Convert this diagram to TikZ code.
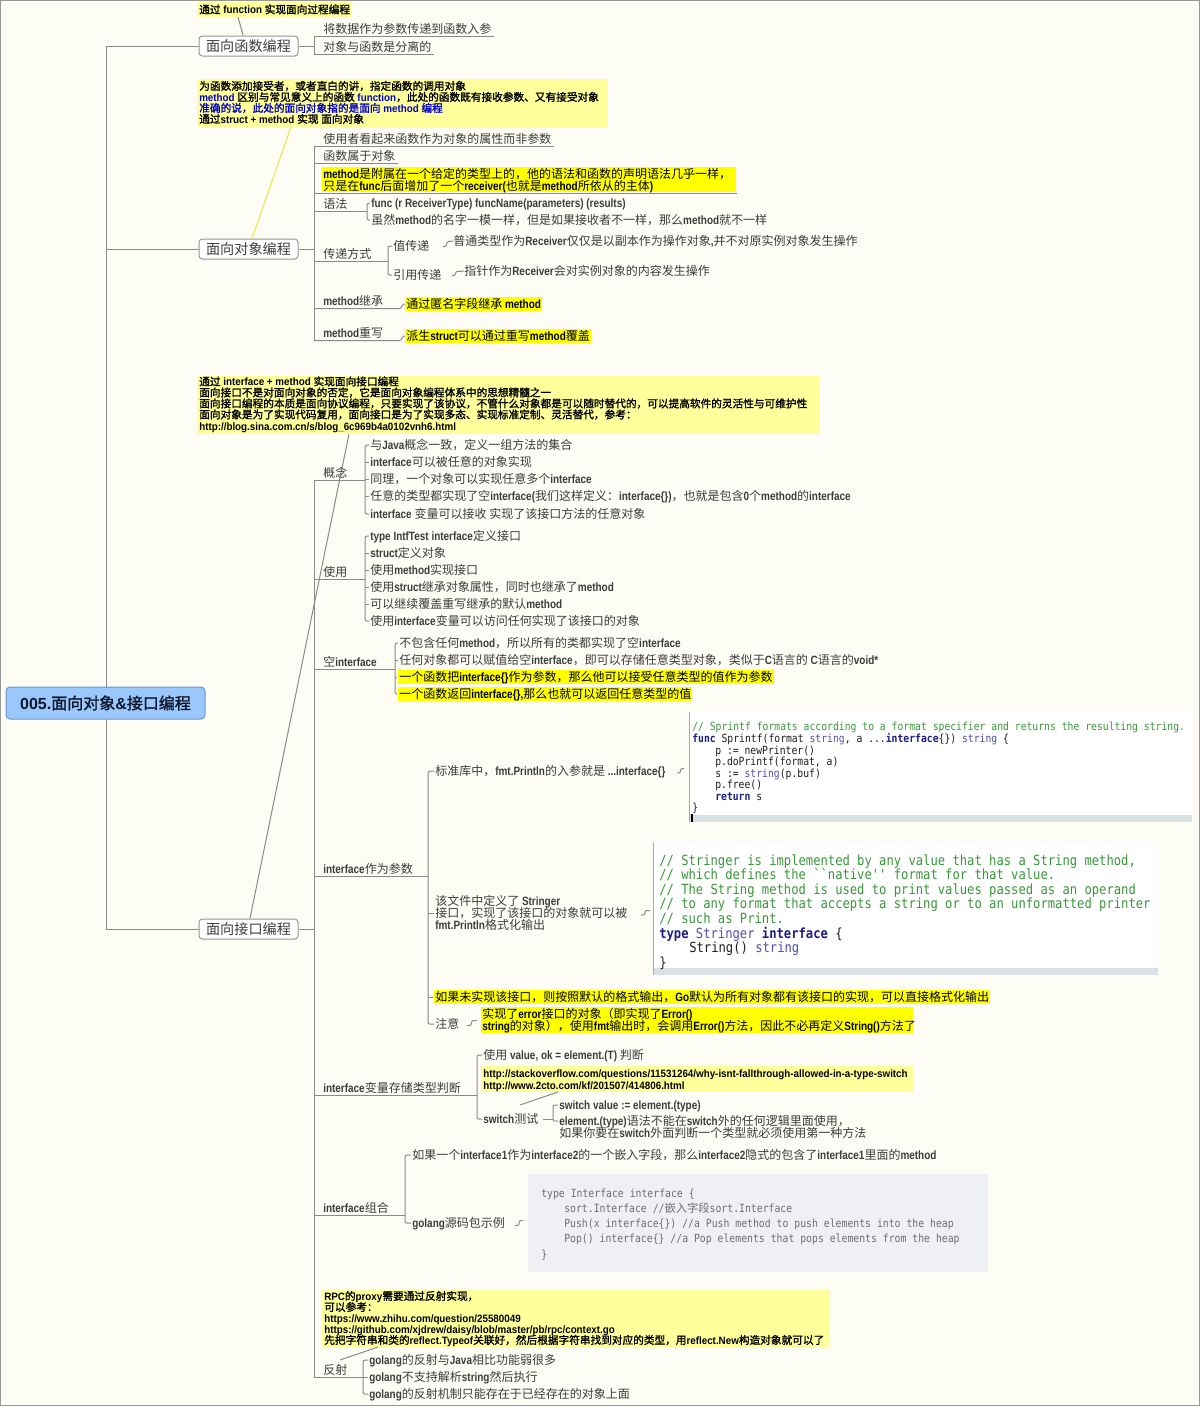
\documentclass[tikz,border=0pt]{standalone}
\usepackage{fontspec}
\setmonofont{DejaVu Sans Mono}[FakeStretch=0.87]
\newfontfamily\latB{Liberation Sans Bold}[FakeStretch=0.83]
\newfontfamily\latC{Liberation Sans Bold}[FakeStretch=0.92]
\newfontfamily\latW{Liberation Sans Bold}
\newfontfamily\cjkR{Noto Sans CJK SC}
\newfontfamily\cjkB{Noto Sans CJK SC}[FakeBold=1.6]
\newcount\cjkcnt
\newcommand\setcjkrange[2]{\cjkcnt=#1\relax
  \loop\XeTeXcharclass\cjkcnt=7\relax
  \ifnum\cjkcnt<#2\relax\advance\cjkcnt by 1\relax\repeat}
\setcjkrange{"3000}{"303F}
\setcjkrange{"4E00}{"9FFF}
\setcjkrange{"FF00}{"FFEF}
\def\cjkswitch{\cjkR}
\def\latswitch{\latB}
\XeTeXinterchartoks 0 7 = {\cjkswitch}
\XeTeXinterchartoks 4095 7 = {\cjkswitch}
\XeTeXinterchartoks 7 0 = {\latswitch}
\XeTeXinterchartoks 7 4095 = {\latswitch}
\XeTeXinterchartokenstate=1
\newcommand\lblfont{\def\latswitch{\latB}\def\cjkswitch{\cjkR}\fontsize{9pt}{11pt}\selectfont\latB}
\newcommand\clfont{\def\latswitch{\latC}\def\cjkswitch{\cjkB}\fontsize{8pt}{10pt}\selectfont\latC}
\newcommand\boxfont{\def\latswitch{\latB}\def\cjkswitch{\cjkR}\fontsize{10.6pt}{12pt}\selectfont\cjkR}
\newcommand\rootfont{\def\latswitch{\latW}\def\cjkswitch{\cjkB}\fontsize{12pt}{14pt}\selectfont\latW}
\newcommand\codeAfont{\def\latswitch{\ttfamily}\def\cjkswitch{\cjkR}\fontsize{8.4pt}{10pt}\selectfont\ttfamily}
\newcommand\codeBfont{\def\latswitch{\ttfamily}\def\cjkswitch{\cjkR}\fontsize{10.5pt}{12pt}\selectfont\ttfamily}
\newcommand\codeCfont{\def\latswitch{\ttfamily}\def\cjkswitch{\cjkR}\fontsize{8.45pt}{10pt}\selectfont\ttfamily}
\definecolor{bgc}{RGB}{253,253,246}
\definecolor{framec}{RGB}{150,150,150}
\definecolor{linec}{RGB}{138,138,138}
\definecolor{boxc}{RGB}{150,150,150}
\definecolor{txtc}{RGB}{60,60,60}
\definecolor{l1c}{RGB}{64,64,64}
\definecolor{hly}{RGB}{255,255,0}
\definecolor{clyc}{RGB}{255,255,155}
\definecolor{ylinec}{RGB}{235,235,90}
\definecolor{blu}{RGB}{0,0,205}
\definecolor{rootf}{RGB}{155,200,250}
\definecolor{rootb}{RGB}{110,150,205}
\definecolor{roott}{RGB}{16,24,48}
\definecolor{codet}{RGB}{30,30,30}
\definecolor{cmc}{RGB}{60,150,60}
\definecolor{kwc}{RGB}{30,30,130}
\definecolor{tyc}{RGB}{80,80,175}
\definecolor{codeband}{RGB}{218,225,229}
\definecolor{codeedge}{RGB}{170,170,170}
\definecolor{codeCbg}{RGB}{239,240,244}
\definecolor{codeCt}{RGB}{110,110,110}
\newcommand\ckw[1]{{\bfseries\color{kwc}#1}}
\newcommand\cty[1]{{\color{tyc}#1}}
\tikzset{
 lnk/.style={draw=linec, line width=0.75pt},
 rcn/.style={rounded corners=1.5pt},
 yln/.style={draw=ylinec, line width=0.9pt},
 lbl/.style={anchor=base west, inner sep=0pt, text height=8.4pt, text depth=2.6pt, font=\lblfont, text=txtc},
 hil/.style={lbl, text=black, fill=hly, text height=8.1pt, text depth=2.2pt, inner xsep=0.75pt},
 hlt/.style={lbl, text=black},
 cal/.style={anchor=base west, inner sep=0pt, font=\clfont, text=black},
 l1box/.style={draw=boxc, fill=white, rounded corners=2.5pt, minimum width=74.25pt, minimum height=15pt, inner sep=0pt, font=\boxfont, text=l1c, line width=0.75pt},
 rootbox/.style={draw=rootb, fill=rootf, rounded corners=3pt, minimum width=149.25pt, minimum height=24pt, inner sep=0pt, font=\rootfont, text=roott, line width=0.75pt},
 codeA/.style={anchor=base west, inner sep=0pt, font=\codeAfont, text=codet},
 codeB/.style={anchor=base west, inner sep=0pt, font=\codeBfont, text=codet},
 codeC/.style={anchor=base west, inner sep=0pt, font=\codeCfont, text=codeCt},
 calbox/.style={fill=clyc},
}
\begin{document}
\begin{tikzpicture}[x=0.75pt,y=-0.75pt]
\useasboundingbox (0,0) rectangle (1200,1406);
\fill[bgc] (0,0) rectangle (1200,1406);
\draw[framec, line width=0.75pt] (0.5,0.5) rectangle (1199.5,1405.5);
\coordinate (T) at (314,0);
\coordinate (M) at (106,0);

% ---------- level 1 boxes and main trunk
\node[l1box] (f1) at (248.5,46) {面向函数编程};
\node[l1box] (o1) at (248.5,249) {面向对象编程};
\node[l1box] (i1) at (248.5,929) {面向接口编程};
\draw[lnk] (f1.west) -- (f1.west -| M) -- (i1.west -| M) -- (i1.west);
\draw[lnk] (o1.west) -- (o1.west -| M);
\node[rootbox] (root) at (105.5,703) {005.面向对象\&接口编程};

% ---------- callout A
\fill[calbox] (197,2) rectangle (352,17);
\node[cal] (ca) at (199,13.5) {通过 function 实现面向过程编程};
\coordinate (caP) at (238,17);
\draw[lnk] (caP) -- ([xshift=-4pt]f1.north);

% ---------- function branch
\node[lbl] (f1a) at (323,33) {将数据作为参数传递到函数入参};
\node[lbl] (f1b) at (323,51) {对象与函数是分离的};
\draw[lnk] (f1.east) -- (f1.east -| T);
\draw[lnk] (f1a.south -| T) -- (f1b.south -| T);
\draw[lnk] (f1a.south -| T) -- ([xshift=2pt]f1a.south east);
\draw[lnk] (f1b.south -| T) -- ([xshift=2pt]f1b.south east);

% ---------- callout B
\fill[calbox] (197,79) rectangle (608,127);
\node[cal] (cb1) at (199,90) {为函数添加接受者，或者直白的讲，指定函数的调用对象};
\node[cal] (cb2) at (199,101) {{\color{blu}method} 区别与常见意义上的函数 {\color{blu}function}，此处的函数既有接收参数、又有接受对象};
\node[cal, text=blu] (cb3) at (199,112) {准确的说，此处的面向对象指的是面向 method 编程};
\node[cal] (cb4) at (199,123) {通过struct + method 实现 面向对象};
\coordinate (cbP) at (291,127);
\draw[yln] (cbP) -- ([xshift=2.6pt]o1.north);

% ---------- object branch
\draw[lnk] (o1.east) -- (o1.east -| T);
\node[lbl] (oa) at (323,143) {使用者看起来函数作为对象的属性而非参数};
\node[lbl] (ob) at (323,160) {函数属于对象};
\fill[hly] (322,167) rectangle (736,192);
\node[hlt] (oc1) at (323,178) {method是附属在一个给定的类型上的，他的语法和函数的声明语法几乎一样，};
\node[hlt] (oc2) at (323,190) {只是在func后面增加了一个receiver(也就是method所依从的主体)};
\node[lbl] (od) at (323,208) {语法};
\node[lbl] (od1) at (371,207) {func (r ReceiverType) funcName(parameters) (results)};
\node[lbl] (od2) at (371,224) {虽然method的名字一模一样，但是如果接收者不一样，那么method就不一样};
\node[lbl] (oe) at (323,258) {传递方式};
\node[lbl] (oe1) at (393,250) {值传递};
\node[lbl] (oe2) at (393,279) {引用传递};
\node[lbl] (oe1a) at (453,245) {普通类型作为Receiver仅仅是以副本作为操作对象,并不对原实例对象发生操作};
\node[lbl] (oe2a) at (464,275) {指针作为Receiver会对实例对象的内容发生操作};
\node[lbl] (of) at (323,305) {method继承};
\node[hil] (ofa) at (405,308) {通过匿名字段继承 method};
\node[lbl] (og) at (323,337) {method重写};
\node[hil] (oga) at (405,340) {派生struct可以通过重写method覆盖};

\draw[lnk] (oa.south -| T) -- (og.south -| T);
\draw[lnk] (oa.south -| T) -- ([xshift=2pt]oa.south east);
\draw[lnk] (ob.south -| T) -- ([xshift=2pt]ob.south east);
\draw[lnk] (oc2.south -| T) -- ++(423,0);
\coordinate (Bod) at (367,0);
\draw[lnk] (od.south -| T) -- (od.south -| Bod);
\draw[lnk,rcn] ([xshift=-0.75pt]od1.west) -- (od1.west -| Bod) -- (od2.west -| Bod) -- ([xshift=-0.75pt]od2.west);
\coordinate (Boe) at (388,0);
\draw[lnk] (oe.south -| T) -- (oe.south -| Boe);
\draw[lnk,rcn] ([xshift=-0.75pt]oe1.west) -- (oe1.west -| Boe) -- (oe2.west -| Boe) -- ([xshift=-0.75pt]oe2.west);
\draw[lnk,rcn] (443,246.5) -- (446.5,246.5) -- (446.5,241.5) -- (oe1a.west);
\draw[lnk,rcn] (452,275.5) -- (455.5,275.5) -- (455.5,271.5) -- (oe2a.west);
\draw[lnk] (of.south -| T) -- (399,308.5);
\draw[lnk,rcn] (399,308.5) -- (401.5,308.5) -- (401.5,304.5) -- (ofa.west);
\draw[lnk] (og.south -| T) -- (399,340.5);
\draw[lnk,rcn] (399,340.5) -- (401.5,340.5) -- (401.5,336.5) -- (oga.west);

% ---------- callout C
\fill[calbox] (197,376) rectangle (820,434);
\node[cal] (cc1) at (199,385.5) {通过 interface + method 实现面向接口编程};
\node[cal] (cc2) at (199,396.5) {面向接口不是对面向对象的否定，它是面向对象编程体系中的思想精髓之一};
\node[cal] (cc3) at (199,407.5) {面向接口编程的本质是面向协议编程，只要实现了该协议，不管什么对象都是可以随时替代的，可以提高软件的灵活性与可维护性};
\node[cal] (cc4) at (199,418.5) {面向对象是为了实现代码复用，面向接口是为了实现多态、实现标准定制、灵活替代，参考：};
\node[cal] (cc5) at (199,430) {http://blog.sina.com.cn/s/blog\_6c969b4a0102vnh6.html};
\coordinate (ccP) at (349,434);
\draw[lnk] (ccP) -- ([xshift=1.1pt]i1.north);

% ---------- interface branch
\draw[lnk] (i1.east) -- (i1.east -| T);
\node[lbl] (ga) at (323,477) {概念};
\node[lbl] (ga1) at (370,449) {与Java概念一致，定义一组方法的集合};
\node[lbl] (ga2) at (370,466) {interface可以被任意的对象实现};
\node[lbl] (ga3) at (370,483) {同理，一个对象可以实现任意多个interface};
\node[lbl] (ga4) at (370,500) {任意的类型都实现了空interface(我们这样定义：interface\{\})，也就是包含0个method的interface};
\node[lbl] (ga5) at (370,518) {interface 变量可以接收 实现了该接口方法的任意对象};
\node[lbl] (gb) at (323,576) {使用};
\node[lbl] (gb1) at (370,540) {type IntfTest interface定义接口};
\node[lbl] (gb2) at (370,557) {struct定义对象};
\node[lbl] (gb3) at (370,574) {使用method实现接口};
\node[lbl] (gb4) at (370,591) {使用struct继承对象属性，同时也继承了method};
\node[lbl] (gb5) at (370,608) {可以继续覆盖重写继承的默认method};
\node[lbl] (gb6) at (370,625) {使用interface变量可以访问任何实现了该接口的对象};
\node[lbl] (gc) at (323,666) {空interface};
\node[lbl] (gc1) at (399,647) {不包含任何method，所以所有的类都实现了空interface};
\node[lbl] (gc2) at (399,664) {任何对象都可以赋值给空interface，即可以存储任意类型对象，类似于C语言的 C语言的void*};
\node[hil] (gc3) at (398,681) {一个函数把interface\{\}作为参数，那么他可以接受任意类型的值作为参数};
\node[hil] (gc4) at (398,698) {一个函数返回interface\{\},那么也就可以返回任意类型的值};
\node[lbl] (gd) at (323,873) {interface作为参数};
\node[lbl] (gd1) at (435,775) {标准库中，fmt.Println的入参就是 ...interface\{\}};
\node[lbl] (gd2a) at (435,905) {该文件中定义了 Stringer};
\node[lbl] (gd2b) at (435,917) {接口，实现了该接口的对象就可以被};
\node[lbl] (gd2c) at (435,929) {fmt.Println格式化输出};
\node[hil] (gd3) at (434,1001) {如果未实现该接口，则按照默认的格式输出，Go默认为所有对象都有该接口的实现，可以直接格式化输出};
\node[lbl] (gd4) at (435,1028) {注意};
\fill[hly] (481,1007) rectangle (913,1033);
\node[hlt] (gd4a) at (482,1018) {实现了error接口的对象（即实现了Error()};
\node[hlt] (gd4b) at (482,1030) {string的对象），使用fmt输出时，会调用Error()方法，因此不必再定义String()方法了};
\node[lbl] (ge) at (323,1092) {interface变量存储类型判断};
\node[lbl] (ge1) at (483,1059) {使用 value, ok = element.(T) 判断};
\node[lbl] (ge2) at (483,1123) {switch测试};
\node[lbl] (ge2a) at (559,1109) {switch value := element.(type)};
\node[lbl] (ge2b) at (559,1125) {element.(type)语法不能在switch外的任何逻辑里面使用，};
\node[lbl] (ge2c) at (559,1137) {如果你要在switch外面判断一个类型就必须使用第一种方法};
\node[lbl] (gf) at (323,1212) {interface组合};
\node[lbl] (gf1) at (412,1159) {如果一个interface1作为interface2的一个嵌入字段，那么interface2隐式的包含了interface1里面的method};
\node[lbl] (gf2) at (412,1227) {golang源码包示例};
\node[lbl] (gg) at (323,1374) {反射};
\node[lbl] (gg1) at (369,1364) {golang的反射与Java相比功能弱很多};
\node[lbl] (gg2) at (369,1381) {golang不支持解析string然后执行};
\node[lbl] (gg3) at (369,1398) {golang的反射机制只能存在于已经存在的对象上面};

\draw[lnk] (ga.south -| T) -- (gg.south -| T);
\coordinate (Bga) at (365,0);
\draw[lnk] (ga.south -| T) -- (ga.south -| Bga);
\draw[lnk,rcn] ([xshift=-0.75pt]ga1.west) -- (ga1.west -| Bga) -- (ga5.west -| Bga) -- ([xshift=-0.75pt]ga5.west);
\foreach \n in {ga2,ga3,ga4} \draw[lnk] (\n.west -| Bga) -- ([xshift=-0.75pt]\n.west);
\coordinate (Bgb) at (365,0);
\draw[lnk] (gb.south -| T) -- (gb.south -| Bgb);
\draw[lnk,rcn] ([xshift=-0.75pt]gb1.west) -- (gb1.west -| Bgb) -- (gb6.west -| Bgb) -- ([xshift=-0.75pt]gb6.west);
\foreach \n in {gb2,gb3,gb4,gb5} \draw[lnk] (\n.west -| Bgb) -- ([xshift=-0.75pt]\n.west);
\coordinate (Bgc) at (395,0);
\draw[lnk] (gc.south -| T) -- (gc.south -| Bgc);
\draw[lnk,rcn] ([xshift=-0.75pt]gc1.west) -- (gc1.west -| Bgc) -- (gc4.west -| Bgc) -- ([xshift=-0.75pt]gc4.west);
\foreach \n in {gc2,gc3} \draw[lnk] (\n.west -| Bgc) -- ([xshift=-0.75pt]\n.west);
\coordinate (Bgd) at (428,0);
\draw[lnk] (gd.south -| T) -- (gd.south -| Bgd);
\draw[lnk,rcn] ([xshift=-0.75pt]gd1.west) -- (gd1.west -| Bgd) -- (gd4.west -| Bgd) -- ([xshift=-0.75pt]gd4.west);
\foreach \n in {gd2b,gd3} \draw[lnk] (\n.west -| Bgd) -- ([xshift=-0.75pt]\n.west);
\draw[lnk,rcn] (677,773) -- (680.5,773) -- (680.5,768.5) -- (684,768.5);
\draw[lnk,rcn] (641,915) -- (645,915) -- (645,910.5) -- (650,910.5);
\draw[lnk,rcn] (467,1025.5) -- (471.5,1025.5) -- (471.5,1020.5) -- (477,1020.5);
\coordinate (Bge) at (477,0);
\draw[lnk] (ge.south -| T) -- (ge.south -| Bge);
\draw[lnk,rcn] ([xshift=-0.75pt]ge1.west) -- (ge1.west -| Bge) -- (ge2.west -| Bge) -- ([xshift=-0.75pt]ge2.west);
\coordinate (Bsw) at (553,0);
\draw[lnk] ([xshift=3pt]ge2.east) -- (ge2.east -| Bsw);
\draw[lnk,rcn] ([xshift=-0.75pt]ge2a.west) -- (ge2a.west -| Bsw) -- (ge2b.west -| Bsw) -- ([xshift=-0.75pt]ge2b.west);
\coordinate (Bgf) at (405,0);
\draw[lnk] (gf.south -| T) -- (gf.south -| Bgf);
\draw[lnk,rcn] ([xshift=-0.75pt]gf1.west) -- (gf1.west -| Bgf) -- (gf2.west -| Bgf) -- ([xshift=-0.75pt]gf2.west);
\draw[lnk,rcn] (515,1225.5) -- (519,1225.5) -- (519,1220.5) -- (523,1220.5);
\coordinate (Bgg) at (363,0);
\draw[lnk] (gg.south -| T) -- (gg.south -| Bgg);
\draw[lnk,rcn] ([xshift=-0.75pt]gg1.west) -- (gg1.west -| Bgg) -- (gg3.west -| Bgg) -- ([xshift=-0.75pt]gg3.west);
\draw[lnk] (gg2.west -| Bgg) -- ([xshift=-0.75pt]gg2.west);

% ---------- callout D
\fill[calbox] (481,1066) rectangle (914,1092);
\node[cal] (cd1) at (483,1077.5) {http://stackoverflow.com/questions/11531264/why-isnt-fallthrough-allowed-in-a-type-switch};
\node[cal] (cd2) at (483,1089) {http://www.2cto.com/kf/201507/414806.html};
\coordinate (cdP) at (558,1092);
\draw[lnk] (cdP) -- ([xshift=28pt,yshift=5pt]ge2.north west);

% ---------- callout E
\fill[calbox] (322,1290) rectangle (830,1347);
\node[cal] (ce1) at (324,1300) {RPC的proxy需要通过反射实现，};
\node[cal] (ce2) at (324,1311) {可以参考：};
\node[cal] (ce3) at (324,1322) {https://www.zhihu.com/question/25580049};
\node[cal] (ce4) at (324,1333) {https://github.com/xjdrew/daisy/blob/master/pb/rpc/context.go};
\node[cal] (ce5) at (324,1344) {先把字符串和类的reflect.Typeof关联好，然后根据字符串找到对应的类型，用reflect.New构造对象就可以了};
\coordinate (ceP) at (378,1347);
\draw[lnk] (ceP) -- ([xshift=13pt,yshift=2pt]gg.north west);

% ---------- code box 1
\fill[white] (689,712) rectangle (1192,822);
\fill[codeband] (690,815) rectangle (1192,822);
\draw[codeedge, line width=0.75pt] (689,712) -- (689,822);
\draw[black, line width=0.9pt] (692,814) -- (692,822);
\node[codeA, text=cmc] (k1) at (692,730.5) {// Sprintf formats according to a format specifier and returns the resulting string.};
\node[codeA] (k2) at (692,742.5) {\ckw{func} Sprintf(format \cty{string}, a ...\ckw{interface}\{\}) \cty{string} \{};
\node[codeA] (k3) at (715,754.5) {p := newPrinter()};
\node[codeA] (k4) at (715,765.5) {p.doPrintf(format, a)};
\node[codeA] (k5) at (715,777.5) {s := \cty{string}(p.buf)};
\node[codeA] (k6) at (715,788.5) {p.free()};
\node[codeA] (k7) at (715,800.5) {\ckw{return} s};
\node[codeA] (k8) at (692,811.5) {\}};

% ---------- code box 2
\fill[white] (653,842) rectangle (1158,975);
\fill[codeband] (654,968) rectangle (1158,975);
\draw[codeedge, line width=0.75pt] (653,842) -- (653,975);
\node[codeB, text=cmc] (s1) at (659,865.3) {// Stringer is implemented by any value that has a String method,};
\node[codeB, text=cmc] (s2) at (659,879.8) {// which defines the ``native'' format for that value.};
\node[codeB, text=cmc] (s3) at (659,894.3) {// The String method is used to print values passed as an operand};
\node[codeB, text=cmc] (s4) at (659,908.8) {// to any format that accepts a string or to an unformatted printer};
\node[codeB, text=cmc] (s5) at (659,923.3) {// such as Print.};
\node[codeB] (s6) at (659,938.3) {\ckw{type} \cty{Stringer} \ckw{interface} \{};
\node[codeB] (s7) at (689,952.3) {String() \cty{string}};
\node[codeB] (s8) at (659,967.3) {\}};

% ---------- code box 3
\fill[codeCbg] (528,1174) rectangle (988,1272);
\node[codeC] (h1) at (541,1197.7) {type Interface interface \{};
\node[codeC] (h2) at (564,1212.7) {sort.Interface //嵌入字段sort.Interface};
\node[codeC] (h3) at (564,1227.7) {Push(x interface\{\}) //a Push method to push elements into the heap};
\node[codeC] (h4) at (564,1242.7) {Pop() interface\{\} //a Pop elements that pops elements from the heap};
\node[codeC] (h5) at (541,1258.7) {\}};
\end{tikzpicture}
\end{document}
